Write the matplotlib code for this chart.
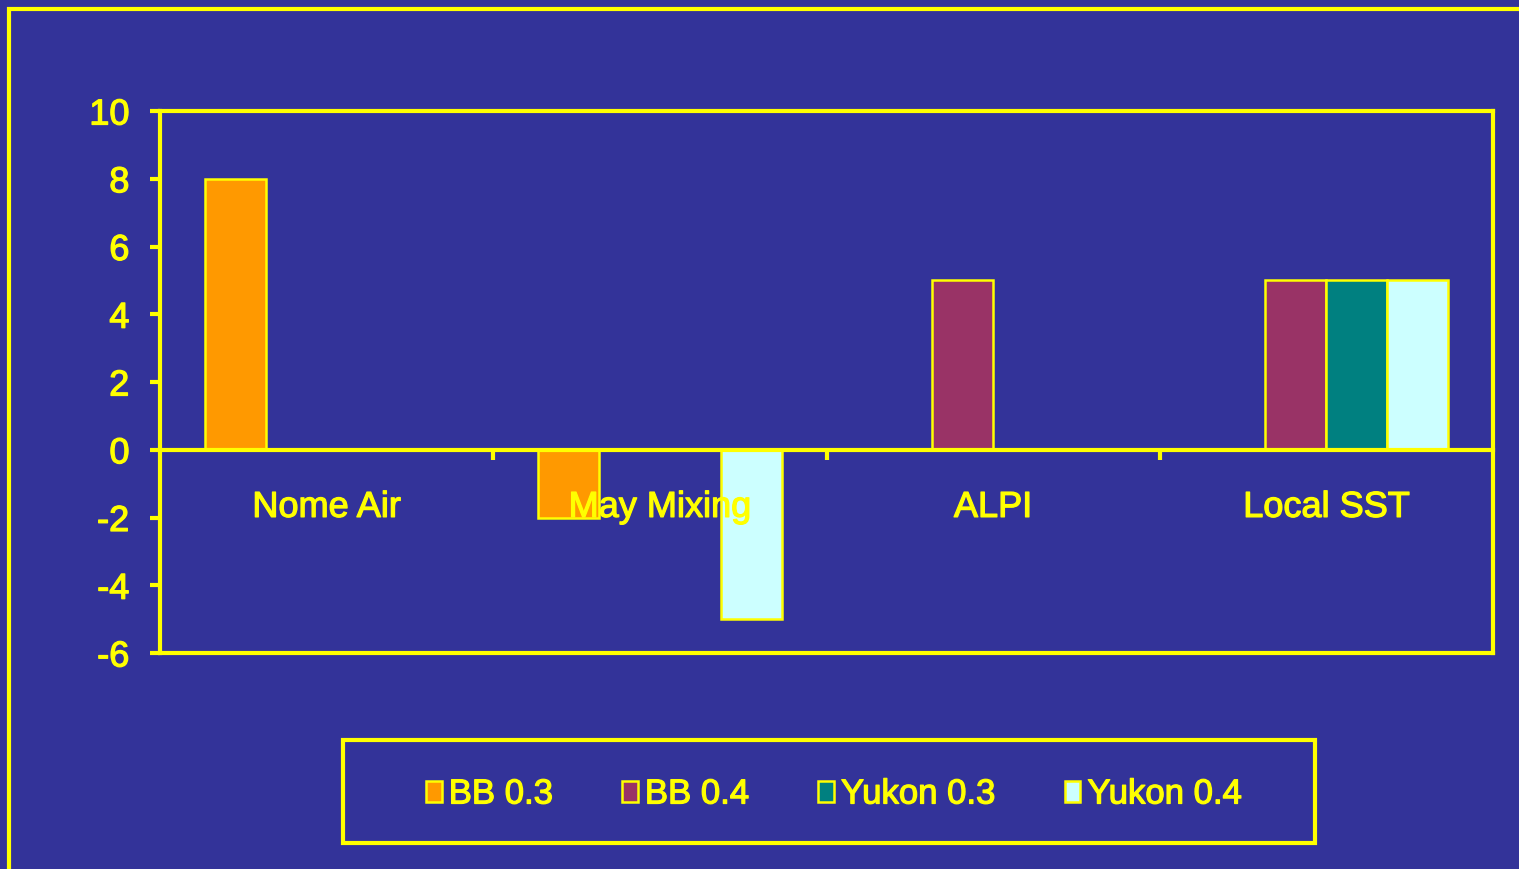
import matplotlib
matplotlib.use("Agg")
import matplotlib.pyplot as plt
import matplotlib.patheffects as pe
from matplotlib.patches import Rectangle
import numpy as np

categories = ["Nome Air", "May Mixing", "ALPI", "Local SST"]
series_names = ["BB 0.3", "BB 0.4", "Yukon 0.3", "Yukon 0.4"]
bb_03 = [8, -2, 0, 0]
bb_04 = [0, 0, 5, 5]
yukon_03 = [0, 0, 0, 5]
yukon_04 = [0, -5, 0, 5]
y_ticks = [-6, -4, -2, 0, 2, 4, 6, 8, 10]

series_values = [bb_03, bb_04, yukon_03, yukon_04]
colors = ["#FF9900", "#993366", "#008080", "#CCFFFF"]

BG = "#333399"
YEL = "#FFFF00"
thick = [pe.withStroke(linewidth=0.9, foreground=YEL)]

plt.rcParams["font.family"] = ["Liberation Sans", "DejaVu Sans"]

W, H = 1519, 869
fig = plt.figure(figsize=(W / 100, H / 100), dpi=100, facecolor=BG)
ax = fig.add_axes([160 / W, 1 - 653 / H, (1493 - 160) / W, (653 - 111) / H])
ax.set_facecolor(BG)

n = len(series_values)
bar_w = 0.183
centers = np.arange(len(categories)) + 0.5
handles = []
for i, (name, vals, col) in enumerate(zip(series_names, series_values, colors)):
    offs = (i - (n - 1) / 2) * bar_w
    b = ax.bar(centers + offs, vals, width=bar_w, color=col, edgecolor=YEL,
               linewidth=1.8, label=name, zorder=3)
    handles.append(b)

ax.set_xlim(0, len(categories))
ax.set_ylim(y_ticks[0], y_ticks[-1])
ax.set_yticks(y_ticks)
ax.set_yticklabels([str(t) for t in y_ticks])

# frame
for side in ["left", "top", "right"]:
    ax.spines[side].set_color(YEL)
    ax.spines[side].set_linewidth(3)
# bottom spine acts as the zero line with category divider ticks
ax.spines["bottom"].set_position(("data", 0))
ax.spines["bottom"].set_color(YEL)
ax.spines["bottom"].set_linewidth(3)
ax.spines["bottom"].set_zorder(4)
ax.plot([0, 1], [0, 0], transform=ax.transAxes, color=YEL, lw=3,
        clip_on=False, solid_capstyle="projecting", zorder=4)

ax.set_xticks(np.arange(1, len(categories)))
ax.set_xticklabels([])
ax.tick_params(axis="x", direction="out", length=7, width=3, color=YEL)
ax.tick_params(axis="y", direction="out", length=7, width=3, color=YEL,
               labelcolor=YEL, labelsize=26, pad=15)
for t in ax.get_yticklabels():
    t.set_path_effects(thick)

for c, label in zip(centers, categories):
    ax.annotate(label, xy=(c, 0), xytext=(0, -41.5), textcoords="offset points",
                ha="center", va="center", color=YEL, fontsize=26, zorder=5,
                path_effects=thick)

# legend box
fig.add_artist(Rectangle((343 / W, 1 - 843 / H), (1315 - 343) / W, (843 - 740) / H,
                         transform=fig.transFigure, facecolor="none",
                         edgecolor=YEL, linewidth=3))
leg = fig.legend(handles=handles, labels=series_names, loc="center",
                 bbox_to_anchor=(834 / W, 1 - 794 / H), ncol=4, frameon=False,
                 prop={"size": 25},
                 handlelength=0.45, handleheight=0.55, handletextpad=0.2,
                 columnspacing=2.0, labelcolor=YEL)
for t in leg.get_texts():
    t.set_path_effects(thick)

# outer slide border
fig.add_artist(Rectangle((9 / W, -0.2), 1.3, 1.2 - 9 / H,
                         transform=fig.transFigure, facecolor="none",
                         edgecolor=YEL, linewidth=3))

fig.savefig("out.png", dpi=100, facecolor=BG)
